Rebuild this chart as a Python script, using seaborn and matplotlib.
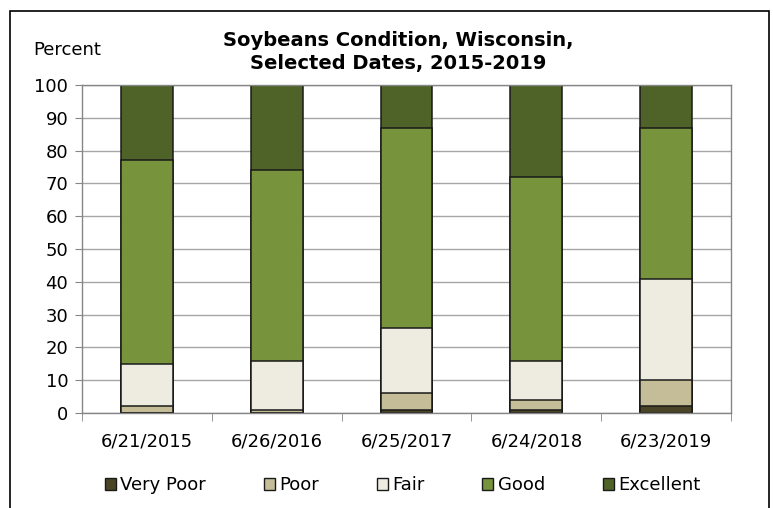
import numpy as np
import pandas as pd
import seaborn as sns
import matplotlib.pyplot as plt
from matplotlib.patches import Rectangle, Patch
from matplotlib.ticker import FixedLocator

dates = ["6/21/2015", "6/26/2016", "6/25/2017", "6/24/2018", "6/23/2019"]
conditions = ["Very Poor", "Poor", "Fair", "Good", "Excellent"]
very_poor = [0, 0, 1, 1, 2]
poor = [2, 1, 5, 3, 8]
fair = [13, 15, 20, 12, 31]
good = [62, 58, 61, 56, 46]
excellent = [23, 26, 13, 28, 13]
colors = ["#4a4526", "#c4bd97", "#eeece1", "#77933c", "#4f6228"]

df = pd.DataFrame({"date": dates, "Very Poor": very_poor, "Poor": poor,
                   "Fair": fair, "Good": good, "Excellent": excellent})
cum = df[conditions].cumsum(axis=1)

sns.set_style("white")
plt.rcParams["font.family"] = ["DejaVu Sans"]
plt.rcParams["text.color"] = "black"
plt.rcParams["xtick.labelcolor"] = "black"
plt.rcParams["ytick.labelcolor"] = "black"

fig = plt.figure(figsize=(7.73, 5.08), dpi=100)
ax = fig.add_axes([0.1061, 0.187, 0.8396, 0.6457])

# stacked look: draw cumulative totals, top layer first
for cond, col in reversed(list(zip(conditions, colors))):
    sub = pd.DataFrame({"date": dates, "val": cum[cond]})
    sns.barplot(data=sub, x="date", y="val", color=col, width=0.4,
                edgecolor="#1a1a1a", linewidth=1.1, saturation=1, ax=ax)

ax.set_ylim(0, 100)
ax.set_xlim(-0.5, 4.5)
ax.set_yticks(range(0, 101, 10))
ax.yaxis.grid(True, color="#a6a6a6", linewidth=1)
ax.set_axisbelow(True)
ax.tick_params(axis="y", length=5, color="#868686", labelsize=13, pad=5, left=True)
ax.tick_params(axis="x", which="major", length=0, labelsize=13, pad=14)
ax.xaxis.set_minor_locator(FixedLocator(np.arange(-0.5, 5, 1)))
ax.tick_params(axis="x", which="minor", length=6, color="#868686", bottom=True)
for s in ax.spines.values():
    s.set_visible(True)
    s.set_color("#868686")
    s.set_linewidth(1)
ax.set_xlabel("")
ax.set_ylabel("")

fig.text(0.0427, 0.902, "Percent", fontsize=13, ha="left", va="center")
fig.text(0.515, 0.898, "Soybeans Condition, Wisconsin,\nSelected Dates, 2015-2019",
         fontsize=14, fontweight="bold", ha="center", va="center", linespacing=1.25)

handles = [Patch(facecolor=c, edgecolor="#1a1a1a", linewidth=1) for c in colors]
fig.legend(handles, conditions, loc="center", bbox_to_anchor=(0.521, 0.045), ncol=5,
           frameon=False, fontsize=13, handlelength=0.6, handleheight=0.6,
           handletextpad=0.25, columnspacing=3.2)

fig.patches.append(Rectangle((0.0129, -0.1), 0.9819, 1.078, transform=fig.transFigure,
                             fill=False, edgecolor="black", linewidth=1.2))

fig.savefig("out.png", dpi=100)
